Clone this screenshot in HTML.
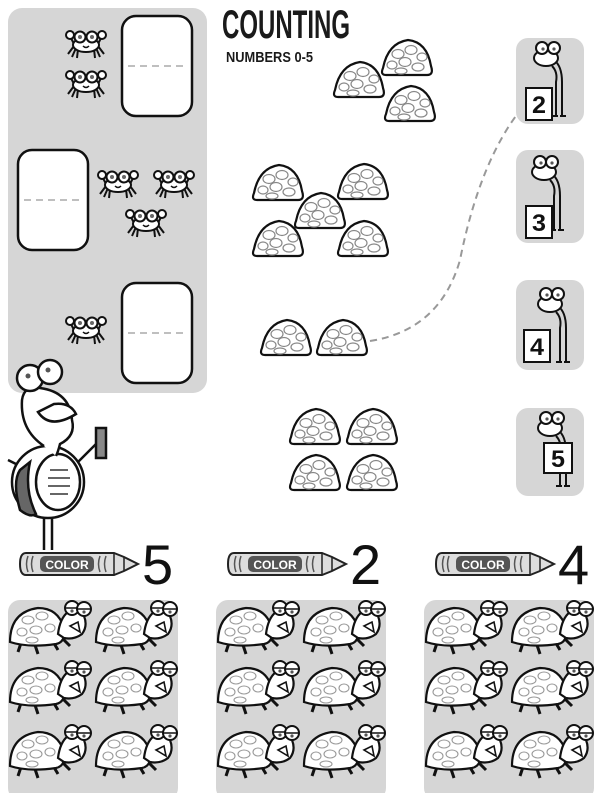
<!DOCTYPE html>
<html><head><meta charset="utf-8"><style>
html,body{margin:0;padding:0;background:#fff;width:600px;height:793px;overflow:hidden}
svg{display:block}
text{font-family:"Liberation Sans",sans-serif}
</style></head><body>
<svg width="600" height="793" viewBox="0 0 600 793" xmlns="http://www.w3.org/2000/svg">
<defs>
  <g id="shell">
    <path d="M5,37 Q-1,37 2,30 Q7,5 27,2 Q46,4 50,28 Q53,37 46,37 Z" fill="#fff" stroke="#111" stroke-width="2.2"/>
    <g fill="none" stroke="#888" stroke-width="1.2">
      <ellipse cx="17" cy="16" rx="6" ry="4.5"/><ellipse cx="30" cy="12" rx="6" ry="4.5"/><ellipse cx="41" cy="19" rx="5" ry="4"/>
      <ellipse cx="11" cy="27" rx="5" ry="4"/><ellipse cx="24" cy="24" rx="6" ry="4.5"/><ellipse cx="37" cy="29" rx="6" ry="4"/>
      <ellipse cx="20" cy="33" rx="6" ry="3"/>
    </g>
  </g>
  <g id="crab">
    <g stroke="#111" stroke-width="2" fill="none">
      <path d="M8,18 L2,26 M10,20 L6,29 M12,21 L11,30 M32,18 L38,26 M30,20 L34,29 M28,21 L29,30"/>
      <path d="M8,16 L4,8 M32,16 L36,8"/>
    </g>
    <circle cx="4" cy="7" r="4" fill="#fff" stroke="#111" stroke-width="2"/>
    <circle cx="36" cy="7" r="4" fill="#fff" stroke="#111" stroke-width="2"/>
    <ellipse cx="20" cy="17" rx="13" ry="7" fill="#fff" stroke="#111" stroke-width="2"/>
    <circle cx="14" cy="9" r="5.5" fill="#fff" stroke="#111" stroke-width="2"/>
    <circle cx="26" cy="9" r="5.5" fill="#fff" stroke="#111" stroke-width="2"/>
    <circle cx="14" cy="9" r="2" fill="#666"/><circle cx="26" cy="9" r="2" fill="#666"/>
    <path d="M17,18 Q20,21 23,18" stroke="#111" fill="none" stroke-width="1.5"/>
  </g>
  <g id="turtle">
    <g stroke="#111" stroke-width="3" fill="none">
      <path d="M14,40 L10,52 M26,42 L30,54 M44,40 L50,50 M54,38 L62,46"/>
    </g>
    <path d="M2,42 Q2,12 30,8 Q50,8 56,28 Q58,42 48,44 Q20,48 2,42 Z" fill="#fff" stroke="#111" stroke-width="2.2"/>
    <g fill="none" stroke="#999" stroke-width="1.1">
      <ellipse cx="20" cy="20" rx="6" ry="4"/><ellipse cx="34" cy="16" rx="6" ry="4"/><ellipse cx="14" cy="32" rx="5" ry="4"/>
      <ellipse cx="28" cy="30" rx="6" ry="4"/><ellipse cx="42" cy="28" rx="5" ry="4"/><ellipse cx="24" cy="40" rx="6" ry="3"/>
    </g>
    <path d="M50,34 Q52,18 60,12 Q70,8 76,16 Q80,26 74,34 Q66,40 56,38 Z" fill="#fff" stroke="#111" stroke-width="2.2"/>
    <circle cx="64" cy="8" r="7" fill="#fff" stroke="#111" stroke-width="2"/>
    <circle cx="76" cy="9" r="7" fill="#fff" stroke="#111" stroke-width="2"/>
    <path d="M58,8 L70,8 M70,9 L82,9" stroke="#111" stroke-width="1.5"/>
    <circle cx="64" cy="11" r="1.6" fill="#555"/><circle cx="76" cy="12" r="1.6" fill="#555"/>
    <path d="M62,26 L70,22 L72,32 Z" fill="#fff" stroke="#111" stroke-width="1.6"/>
  </g>
  <g id="crayon">
    <path d="M6,2 H94 L104,6 L118,13 L104,20 L94,24 H6 Q0,24 0,13 Q0,2 6,2 Z" fill="#ddd" stroke="#222" stroke-width="2"/>
    <path d="M94,2 V24 M104,6 V20" stroke="#222" stroke-width="1.5"/>
    <path d="M8,5 Q5,13 8,21 M13,5 Q10,13 13,21 M80,5 Q77,13 80,21 M86,5 Q83,13 86,21" stroke="#555" stroke-width="1.5" fill="none"/>
    <rect x="20" y="5" width="54" height="16" rx="5" fill="#555"/>
    <text x="47" y="18" text-anchor="middle" font-size="12" font-weight="bold" fill="#fff">COLOR</text>
  </g>
  <g id="pfrog">
    <path d="M30,74 L30,40 Q32,30 26,24" stroke="#111" stroke-width="2" fill="none"/>
    <path d="M36,74 L36,40 Q36,24 28,18" stroke="#111" stroke-width="2" fill="none"/>
    <ellipse cx="20" cy="16" rx="12" ry="8" fill="#fff" stroke="#111" stroke-width="2"/>
    <circle cx="16" cy="6" r="6" fill="#fff" stroke="#111" stroke-width="2"/>
    <circle cx="28" cy="6" r="6" fill="#fff" stroke="#111" stroke-width="2"/>
    <circle cx="17" cy="7" r="1.6" fill="#555"/><circle cx="28" cy="7" r="1.6" fill="#555"/>
    <path d="M26,74 H32 M34,74 H40" stroke="#111" stroke-width="2"/>
  </g>
</defs>

<!-- left gray panel -->
<rect x="8" y="8" width="199" height="385" rx="14" fill="#d6d6d6"/>
<g fill="#fff" stroke="#111" stroke-width="2.5">
  <rect x="122" y="16" width="70" height="100" rx="14"/>
  <rect x="18" y="150" width="70" height="100" rx="14"/>
  <rect x="122" y="283" width="70" height="100" rx="14"/>
</g>
<g stroke="#999" stroke-width="1.3" stroke-dasharray="7 5">
  <line x1="128" y1="66" x2="188" y2="66"/>
  <line x1="24" y1="200" x2="84" y2="200"/>
  <line x1="128" y1="333" x2="188" y2="333"/>
</g>
<use href="#crab" x="66" y="28"/>
<use href="#crab" x="66" y="68"/>
<use href="#crab" x="98" y="168"/>
<use href="#crab" x="154" y="168"/>
<use href="#crab" x="126" y="207"/>
<use href="#crab" x="66" y="314"/>

<!-- title -->
<text x="222" y="38" font-size="40" font-weight="bold" fill="#1a1a1a" textLength="128" lengthAdjust="spacingAndGlyphs">COUNTING</text>
<text x="226" y="62" font-size="15" font-weight="bold" fill="#1a1a1a" textLength="87" lengthAdjust="spacingAndGlyphs">NUMBERS 0-5</text>

<!-- dashed connector -->
<path d="M370,341 Q440,330 460,260 Q480,160 522,108" fill="none" stroke="#999" stroke-width="2" stroke-dasharray="7 5"/>

<!-- shells -->
<use href="#shell" x="333" y="60"/>
<use href="#shell" x="381" y="38"/>
<use href="#shell" x="384" y="84"/>
<use href="#shell" x="252" y="163"/>
<use href="#shell" x="337" y="162"/>
<use href="#shell" x="294" y="191"/>
<use href="#shell" x="252" y="219"/>
<use href="#shell" x="337" y="219"/>
<use href="#shell" x="260" y="318"/>
<use href="#shell" x="316" y="318"/>
<use href="#shell" x="289" y="407"/>
<use href="#shell" x="346" y="407"/>
<use href="#shell" x="289" y="453"/>
<use href="#shell" x="346" y="453"/>

<!-- right panels -->
<g fill="#d6d6d6">
  <rect x="516" y="38" width="68" height="86" rx="12"/>
  <rect x="516" y="150" width="68" height="93" rx="12"/>
  <rect x="516" y="280" width="68" height="90" rx="12"/>
  <rect x="516" y="408" width="68" height="88" rx="12"/>
</g>
<use href="#pfrog" x="526" y="42"/>
<use href="#pfrog" x="524" y="156"/>
<use href="#pfrog" x="530" y="288"/>
<use href="#pfrog" x="530" y="412"/>
<g fill="#fff" stroke="#111" stroke-width="2">
  <rect x="526" y="88" width="26" height="32"/>
  <rect x="526" y="206" width="26" height="32"/>
  <rect x="524" y="330" width="26" height="32"/>
  <rect x="544" y="443" width="28" height="30"/>
</g>
<g font-size="24" font-weight="bold" fill="#111" text-anchor="middle">
  <text x="539" y="113" textLength="14" lengthAdjust="spacingAndGlyphs">2</text>
  <text x="539" y="231" textLength="14" lengthAdjust="spacingAndGlyphs">3</text>
  <text x="537" y="355" textLength="14" lengthAdjust="spacingAndGlyphs">4</text>
  <text x="558" y="467" textLength="14" lengthAdjust="spacingAndGlyphs">5</text>
</g>

<!-- big character -->
<g stroke="#111" stroke-width="2.5">
  <path d="M44,510 L44,550 M52,510 L52,550" fill="none"/>
  <path d="M8,460 L40,476 M70,470 L100,440" fill="none"/>
  <ellipse cx="48" cy="482" rx="36" ry="36" fill="#fff"/>
  <path d="M20,470 Q12,482 20,510 Q30,518 36,514 Q24,490 30,462 Z" fill="#666"/>
  <ellipse cx="58" cy="482" rx="22" ry="28" fill="#fff"/>
  <path d="M44,446 Q20,430 22,400 Q24,385 40,388 Q70,392 72,420 Q76,436 60,444 Q58,452 56,456" fill="#fff"/>
  <circle cx="30" cy="378" r="13" fill="#fff"/>
  <circle cx="50" cy="372" r="12" fill="#fff"/>
  <path d="M38,412 Q50,430 76,414 Q70,402 54,404 Z" fill="#fff"/>
  <rect x="96" y="428" width="10" height="30" fill="#888"/>
</g>
<circle cx="28" cy="376" r="2.5" fill="#555"/><circle cx="48" cy="370" r="2.5" fill="#555"/>
<g stroke="#333" stroke-width="1.5" fill="none">
  <path d="M50,470 H68 M48,478 H70 M48,486 H70 M50,494 H68"/>
</g>

<!-- crayons and numbers -->
<use href="#crayon" x="20" y="551"/>
<use href="#crayon" x="228" y="551"/>
<use href="#crayon" x="436" y="551"/>
<g font-size="56" fill="#111">
  <text x="142" y="584">5</text>
  <text x="350" y="584">2</text>
  <text x="558" y="584">4</text>
</g>

<!-- bottom panels -->
<g fill="#d6d6d6">
  <rect x="8" y="600" width="170" height="200" rx="12"/>
  <rect x="216" y="600" width="170" height="200" rx="12"/>
  <rect x="424" y="600" width="170" height="200" rx="12"/>
</g>
<g>
  <use href="#turtle" x="8" y="600"/><use href="#turtle" x="94" y="600"/>
  <use href="#turtle" x="8" y="660"/><use href="#turtle" x="94" y="660"/>
  <use href="#turtle" x="8" y="724"/><use href="#turtle" x="94" y="724"/>
  <use href="#turtle" x="216" y="600"/><use href="#turtle" x="302" y="600"/>
  <use href="#turtle" x="216" y="660"/><use href="#turtle" x="302" y="660"/>
  <use href="#turtle" x="216" y="724"/><use href="#turtle" x="302" y="724"/>
  <use href="#turtle" x="424" y="600"/><use href="#turtle" x="510" y="600"/>
  <use href="#turtle" x="424" y="660"/><use href="#turtle" x="510" y="660"/>
  <use href="#turtle" x="424" y="724"/><use href="#turtle" x="510" y="724"/>
</g>
</svg>
</body></html>
